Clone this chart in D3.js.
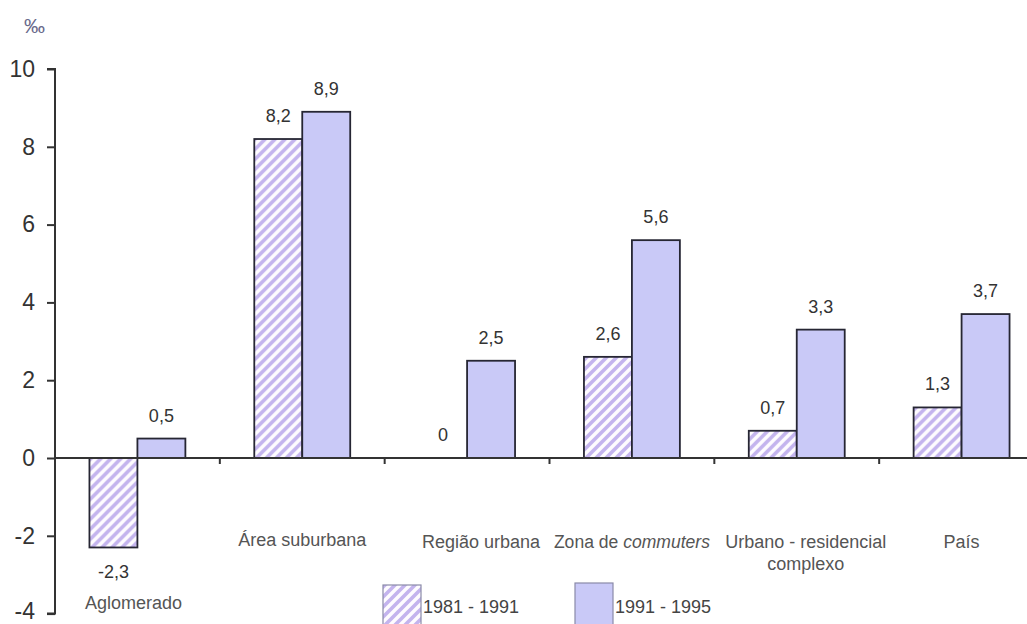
<!DOCTYPE html>
<html>
<head>
<meta charset="utf-8">
<script src="https://cdn.jsdelivr.net/npm/d3@7"></script>
<style>
  html, body { margin: 0; padding: 0; background: #fff; }
  svg { display: block; }
  text { font-family: "Liberation Sans", Arial, sans-serif; }
</style>
</head>
<body>
<svg id="chart" width="1027" height="624"></svg>
<script>
// ---- data ----
const categories = ["Aglomerado", "Área suburbana", "Região urbana", "Zona de commuters", "Urbano-residencial complexo", "País"];
const series = ["1981 - 1991", "1991 - 1995"];
const values1981 = [-2.3, 8.2, 0, 2.6, 0.7, 1.3];
const values1991 = [0.5, 8.9, 2.5, 5.6, 3.3, 3.7];
const yTicks = [-4, -2, 0, 2, 4, 6, 8, 10];
const unitLabel = "‰";

// ---- layout ----
const W = 1027, H = 624;
const svg = d3.select("#chart");
const x = d3.scaleBand().domain(categories).range([55, 1044]).paddingInner(0.418).paddingOuter(0.209);
const xs = d3.scaleBand().domain(series).range([0, x.bandwidth()]);
const y = d3.scaleLinear().domain([-4, 10]).range([613.6, 69]);

const solidColor = "#c9c9f7";
const stripeColor = "#c4b4ee";
const strokeColor = "#262633";

// hatch pattern
const defs = svg.append("defs");
const pat = defs.append("pattern").attr("id", "hatch").attr("patternUnits", "userSpaceOnUse")
  .attr("width", 10).attr("height", 10);
pat.append("rect").attr("width", 10).attr("height", 10).attr("fill", "#fefcff");
pat.append("path").attr("d", "M-2,2 L2,-2 M0,10 L10,0 M8,12 L12,8")
  .attr("stroke", stripeColor).attr("stroke-width", 3.6);

const fmt = v => (v < 0 ? "-" : "") + d3.format(".1f")(Math.abs(v)).replace(".", ",").replace(/,0$/, "");

// bars
const rows = categories.map((c, i) => ({ c, vals: [values1981[i], values1991[i]] }));
const groups = svg.append("g").selectAll("g").data(rows).join("g")
  .attr("transform", d => `translate(${x(d.c)},0)`);

groups.selectAll("rect").data(d => d.vals.map((v, j) => ({ v, s: series[j] })).filter(e => e.v !== 0))
  .join("rect")
  .attr("x", e => xs(e.s))
  .attr("width", xs.bandwidth())
  .attr("y", e => y(Math.max(0, e.v)))
  .attr("height", e => Math.abs(y(e.v) - y(0)))
  .attr("fill", e => e.s === series[0] ? "url(#hatch)" : solidColor)
  .attr("stroke", strokeColor).attr("stroke-width", 1.8);

groups.selectAll("text.val").data(d => d.vals.map((v, j) => ({ v, s: series[j] })))
  .join("text").attr("class", "val")
  .attr("x", e => xs(e.s) + xs.bandwidth() / 2)
  .attr("y", e => e.v < 0 ? y(e.v) + 31 : y(e.v) - 17)
  .attr("text-anchor", "middle")
  .attr("font-size", 18).attr("fill", "#333")
  .text(e => fmt(e.v));

// y axis
const yAxis = svg.append("g").attr("transform", "translate(55,0)")
  .call(d3.axisLeft(y).tickValues(yTicks).tickSize(8).tickPadding(12).tickFormat(d3.format("d")));
yAxis.select(".domain").attr("stroke", "#333").attr("stroke-width", 2).attr("d", `M-8,${y(-4)}H0V${y(10)}H-8`);
yAxis.selectAll(".tick line").attr("stroke", "#333").attr("stroke-width", 2);
yAxis.selectAll(".tick text").attr("font-size", 23).attr("fill", "#333")
  .attr("font-family", "'Liberation Sans', Arial, sans-serif")
  .attr("dy", d => d === -4 ? "0.22em" : "0.32em")
  .text(d => d < 0 ? "-" + Math.abs(d) : d);

// x axis line at zero with ticks at category boundaries
const xAxisG = svg.append("g");
xAxisG.append("line").attr("x1", 55).attr("x2", W).attr("y1", y(0)).attr("y2", y(0))
  .attr("stroke", "#333").attr("stroke-width", 2);
const boundaries = categories.slice(1).map(c => x(c) - x.step() * x.paddingInner() / 2);
xAxisG.selectAll("line.tk").data(boundaries).join("line").attr("class", "tk")
  .attr("x1", d => d).attr("x2", d => d).attr("y1", y(0)).attr("y2", y(0) + 6)
  .attr("stroke", "#333").attr("stroke-width", 2);

// category labels
const labelPos = {
  "Aglomerado": { dx: -4, y: 609 },
  "Área suburbana": { dx: 0, y: 546 },
  "Região urbana": { dx: 14, y: 548 },
  "Zona de commuters": { dx: 0, y: 548 },
  "Urbano-residencial complexo": { dx: 9, y: 548 },
  "País": { dx: 0, y: 548 }
};
const catG = svg.append("g");
categories.forEach(c => {
  const cx = x(c) + x.bandwidth() / 2 + labelPos[c].dx;
  const t = catG.append("text").attr("x", cx).attr("y", labelPos[c].y)
    .attr("text-anchor", "middle").attr("font-size", 18).attr("fill", "#555");
  if (c === "Zona de commuters") {
    t.attr("textLength", 156).attr("lengthAdjust", "spacingAndGlyphs");
    t.append("tspan").text("Zona de ");
    t.append("tspan").attr("font-style", "italic").text("commuters");
  } else if (c === "Urbano-residencial complexo") {
    t.append("tspan").attr("x", cx).text("Urbano - residencial");
    t.append("tspan").attr("x", cx).attr("dy", 22).text("complexo");
  } else {
    t.text(c);
  }
});

// unit label
svg.append("text").attr("x", 24).attr("y", 33).attr("font-size", 21).attr("fill", "#6a6a8c").text(unitLabel);

// legend
const legendItems = [
  { s: series[0], bx: 383, by: 585, bw: 38, fill: "url(#hatch)" },
  { s: series[1], bx: 575, by: 583, bw: 38, fill: solidColor }
];
const lg = svg.append("g");
legendItems.forEach(it => {
  lg.append("rect").attr("x", it.bx).attr("y", it.by).attr("width", it.bw).attr("height", 45)
    .attr("fill", it.fill).attr("stroke", "#8a8aa8").attr("stroke-width", 1.2);
  lg.append("text").attr("x", it.bx + it.bw + 2).attr("y", 613).attr("font-size", 18).attr("fill", "#444").text(it.s);
});
</script>
</body>
</html>
